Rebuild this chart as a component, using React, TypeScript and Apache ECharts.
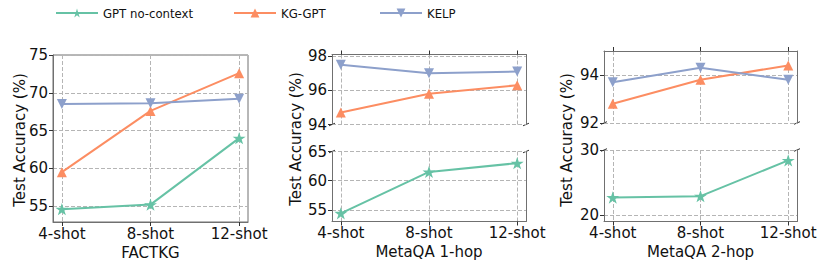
import React, { useEffect, useRef } from 'react';
import * as echarts from 'echarts';

// ---------- data ----------
const shots = ['4-shot', '8-shot', '12-shot'];
const seriesNames = ['GPT no-context', 'KG-GPT', 'KELP'];
const datasetNames = ['FACTKG', 'MetaQA 1-hop', 'MetaQA 2-hop'];

const factkgGPT = [54.6, 55.2, 64.0];
const factkgKG = [59.5, 67.6, 72.6];
const factkgKELP = [68.5, 68.6, 69.2];

const meta1GPT = [54.4, 61.5, 63.0];
const meta1KG = [94.7, 95.8, 96.3];
const meta1KELP = [97.5, 97.0, 97.1];

const meta2GPT = [22.7, 22.9, 28.4];
const meta2KG = [92.8, 93.8, 94.4];
const meta2KELP = [93.7, 94.3, 93.8];

const factkgTicks = [55, 60, 65, 70, 75];
const meta1TopTicks = [94, 96, 98];
const meta1BottomTicks = [55, 60, 65];
const meta2TopTicks = [92, 94];
const meta2BottomTicks = [20, 30];

// ---------- style ----------
const FONT = "'DejaVu Sans', sans-serif";
const COLORS = ['#66c2a5', '#fc8d62', '#8da0cb'];
const STAR =
  'path://M100 0 L122.45 69.1 L195.11 69.1 L136.33 111.8 L158.78 180.9 L100 138.2 L41.22 180.9 L63.67 111.8 L4.89 69.1 L77.55 69.1 Z';
const DOWN_TRI = 'path://M0 0 L10 0 L5 10 Z';
const SYMBOLS = [STAR, 'triangle', DOWN_TRI];
const SIZES = [13, 10, 10];
const SPINE = '#707070';
const TICK = '#333333';
const GRIDC = '#b5b5b5';
const TEXT = '#111111';

const GRIDS = [
  { left: 53, top: 55, width: 195, height: 167 },
  { left: 332, top: 54.5, width: 194, height: 70 },
  { left: 332, top: 151.5, width: 194, height: 70 },
  { left: 604, top: 51, width: 193, height: 72 },
  { left: 604, top: 150, width: 193, height: 71.5 },
];

const xIdx = shots.map((_, i) => i);

function xAxis(gridIndex: number, position: string, labels: boolean, name?: string) {
  return {
    type: 'value',
    gridIndex,
    position,
    min: -0.1,
    max: 2.1,
    name: name || '',
    nameLocation: 'middle',
    nameGap: 23,
    nameTextStyle: { fontSize: 15, lineHeight: 15, color: TEXT, fontFamily: FONT },
    axisLine: { show: true, onZero: false, lineStyle: { color: SPINE, width: 1 } },
    axisTick: { show: true, length: 4, customValues: xIdx, lineStyle: { color: TICK } },
    axisLabel: {
      show: labels,
      customValues: xIdx,
      formatter: (v: number) => shots[Math.round(v)] ?? '',
      margin: 4,
      fontSize: 15,
      lineHeight: 15,
      color: TEXT,
      fontFamily: FONT,
    },
    splitLine: { show: true, lineStyle: { type: [4, 2], color: GRIDC, width: 1 } },
  };
}

function yLeft(gridIndex: number, min: number, max: number, ticks: number[]) {
  return {
    type: 'value',
    gridIndex,
    position: 'left',
    min,
    max,
    axisLine: { show: true, onZero: false, lineStyle: { color: SPINE, width: 1 } },
    axisTick: { show: true, length: 4, customValues: ticks, lineStyle: { color: TICK } },
    axisLabel: { customValues: ticks, fontSize: 15, lineHeight: 15, margin: 5, color: TEXT, fontFamily: FONT },
    splitLine: { show: true, lineStyle: { type: [4, 2], color: GRIDC, width: 1 } },
  };
}

function yRight(gridIndex: number, min: number, max: number) {
  return {
    type: 'value',
    gridIndex,
    position: 'right',
    min,
    max,
    axisLine: { show: true, onZero: false, lineStyle: { color: SPINE, width: 1 } },
    axisTick: { show: false },
    axisLabel: { show: false },
    splitLine: { show: false },
  };
}

function lineSeries(k: number, values: number[], xAxisIndex: number, yAxisIndex: number) {
  return {
    type: 'line',
    name: seriesNames[k],
    xAxisIndex,
    yAxisIndex,
    data: values.map((v, i) => [i, v]),
    symbol: SYMBOLS[k],
    symbolSize: SIZES[k],
    symbolKeepAspect: true,
    showAllSymbol: true,
    lineStyle: { color: COLORS[k], width: 2 },
    itemStyle: { color: COLORS[k] },
    z: 2 + k,
    silent: true,
  };
}

function breakMark(x: number, y: number) {
  return {
    type: 'line',
    shape: { x1: x - 3, y1: y + 1.3, x2: x + 3, y2: y - 1.3 },
    style: { stroke: '#333', lineWidth: 1 },
    silent: true,
  };
}

function yTitle(x: number, y: number) {
  return {
    type: 'text',
    x,
    y,
    rotation: Math.PI / 2,
    style: {
      text: 'Test Accuracy (%)',
      fontSize: 15,
      fontFamily: FONT,
      fill: TEXT,
      align: 'center',
      verticalAlign: 'middle',
    },
  };
}

export default function App() {
  const ref = useRef<HTMLDivElement>(null);
  useEffect(() => {
    if (!ref.current) return;
    const chart = echarts.init(ref.current, null, { renderer: 'svg' });

    const grids = GRIDS.map((g, i) => ({
      ...g,
      containLabel: false,
      show: i === 0,
      borderColor: SPINE,
      borderWidth: 1,
      backgroundColor: 'transparent',
    }));

    const xAxes = [
      xAxis(0, 'bottom', true, datasetNames[0]),
      xAxis(1, 'top', false),
      xAxis(2, 'bottom', true, datasetNames[1]),
      xAxis(3, 'top', false),
      xAxis(4, 'bottom', true, datasetNames[2]),
    ];

    const yAxes = [
      yLeft(0, 52.9, 75, factkgTicks), // 0
      yLeft(1, 94, 98.1, meta1TopTicks), // 1
      yRight(1, 94, 98.1), // 2
      yLeft(2, 53, 65, meta1BottomTicks), // 3
      yRight(2, 53, 65), // 4
      yLeft(3, 92, 95, meta2TopTicks), // 5
      yRight(3, 92, 95), // 6
      yLeft(4, 19, 30, meta2BottomTicks), // 7
      yRight(4, 19, 30), // 8
    ];

    const series = [
      lineSeries(0, factkgGPT, 0, 0),
      lineSeries(1, factkgKG, 0, 0),
      lineSeries(2, factkgKELP, 0, 0),
      lineSeries(1, meta1KG, 1, 1),
      lineSeries(2, meta1KELP, 1, 1),
      lineSeries(0, meta1GPT, 2, 3),
      lineSeries(1, meta2KG, 3, 5),
      lineSeries(2, meta2KELP, 3, 5),
      lineSeries(0, meta2GPT, 4, 7),
    ];

    const legendLefts = [55, 233, 379];
    const legends = seriesNames.map((n, i) => ({
      data: [n],
      left: legendLefts[i],
      top: 6.5,
      padding: 0,
      itemWidth: 42,
      itemHeight: 11,
      itemGap: 0,
      selectedMode: false,
      textStyle: {
        fontSize: 13,
        color: TEXT,
        fontFamily: "'Liberation Sans Narrow', 'DejaVu Sans Condensed', 'DejaVu Sans', sans-serif",
        padding: [9, 0, 0, 0],
      },
    }));

    const g = GRIDS;
    const graphic = [
      yTitle(20, 140),
      yTitle(296, 139),
      yTitle(567, 140),
      breakMark(g[1].left, g[1].top + g[1].height),
      breakMark(g[1].left + g[1].width, g[1].top + g[1].height),
      breakMark(g[2].left, g[2].top),
      breakMark(g[2].left + g[2].width, g[2].top),
      breakMark(g[3].left, g[3].top + g[3].height),
      breakMark(g[3].left + g[3].width, g[3].top + g[3].height),
      breakMark(g[4].left, g[4].top),
      breakMark(g[4].left + g[4].width, g[4].top),
    ];

    chart.setOption({
      animation: false,
      backgroundColor: '#ffffff',
      textStyle: { fontFamily: FONT },
      legend: legends,
      grid: grids,
      xAxis: xAxes,
      yAxis: yAxes,
      series,
      graphic,
    });

    return () => chart.dispose();
  }, []);

  return (
    <div
      ref={ref}
      style={{ position: 'fixed', left: 0, top: 0, width: 830, height: 271, background: '#fff' }}
    />
  );
}
